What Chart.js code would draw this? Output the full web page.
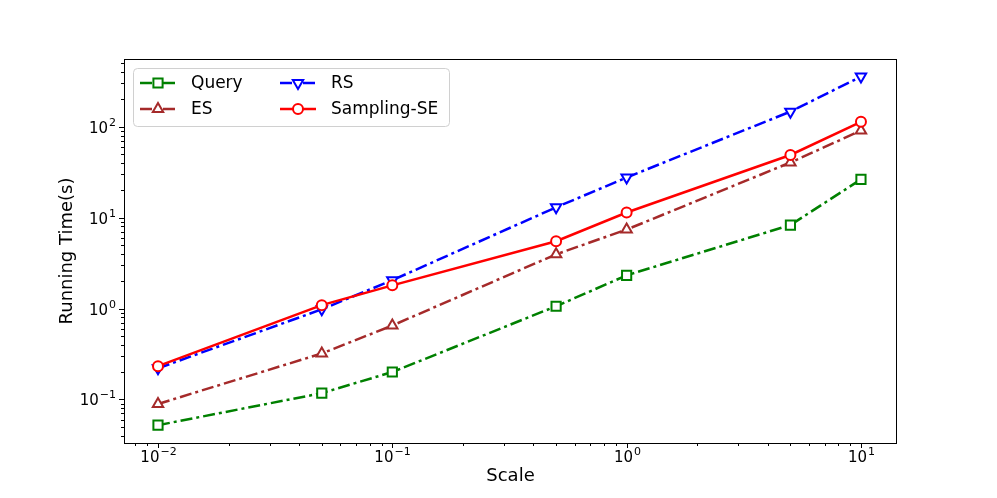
<!DOCTYPE html>
<html>
<head>
<meta charset="utf-8">
<script src="https://cdn.jsdelivr.net/npm/chart.js@4.4.1/dist/chart.umd.min.js"></script>
<style>
  html, body { margin: 0; padding: 0; background: #fff; }
  #chart { display: block; }
</style>
</head>
<body>
<canvas id="chart" width="997" height="498"></canvas>
<script>
// data (log-log)
const scales = [0.01, 0.05, 0.1, 0.5, 1, 5, 10];
const queryTimes = [0.052, 0.117, 0.20, 1.06, 2.32, 8.3, 26.4];
const esTimes = [0.089, 0.32, 0.65, 3.95, 7.4, 40.5, 91];
const rsTimes = [0.22, 0.98, 2.05, 13.0, 27.7, 147, 357];
const samplingTimes = [0.232, 1.09, 1.80, 5.5, 11.4, 49, 113.5];

const xTickExps = [-3, -2, -1, 0, 1];
const yTickExps = [-2, -1, 0, 1, 2];

const FONT = "'DejaVu Sans', sans-serif";
const dashDot = [12, 4, 3, 4];

function decadeTicks(exps, min, max) {
    const out = [];
    exps.forEach(function(e) {
        for (let m = 1; m <= 9; m++) {
            const v = m * Math.pow(10, e);
            if (v >= min && v <= max) out.push({ value: v });
        }
    });
    return out;
}

function isDecade(v) {
    const l = Math.log10(v);
    return Math.abs(l - Math.round(l)) < 1e-9;
}

function toPoints(ys) {
    return scales.map((x, i) => ({ x: x, y: ys[i] }));
}

// "10" with a raised exponent, like matplotlib mathtext
function drawPow(ctx, v, x, baseline, align) {
    const e = Math.round(Math.log10(v));
    const expText = e < 0 ? '\u2212' + (-e) : String(e);
    ctx.font = '15px ' + FONT;
    const w1 = ctx.measureText('10').width;
    ctx.font = '11px ' + FONT;
    const w2 = ctx.measureText(expText).width;
    const total = w1 + w2 + 1;
    let left = align === 'right' ? x - total : x - total / 2;
    ctx.textAlign = 'left';
    ctx.textBaseline = 'alphabetic';
    ctx.fillStyle = '#000';
    ctx.font = '15px ' + FONT;
    ctx.fillText('10', left, baseline);
    ctx.font = '11px ' + FONT;
    ctx.fillText(expText, left + w1 + 1, baseline - 7);
}

// frame, tick marks, tick labels and matplotlib-like legend
const framePlugin = {
    id: 'frame',
    afterDraw(chart) {
        const ctx = chart.ctx;
        const a = chart.chartArea;
        ctx.save();
        ctx.strokeStyle = '#000';
        ctx.lineWidth = 1;
        ctx.strokeRect(a.left + 0.5, a.top + 0.5, a.right - a.left - 1, a.bottom - a.top);

        const xs = chart.scales.x;
        xs.ticks.forEach(t => {
            const px = Math.round(xs.getPixelForValue(t.value)) + 0.5;
            const major = isDecade(t.value);
            ctx.beginPath();
            ctx.moveTo(px, a.bottom);
            ctx.lineTo(px, a.bottom + (major ? 5 : 3));
            ctx.stroke();
            if (major) drawPow(ctx, t.value, px, a.bottom + 19, 'center');
        });
        const ys = chart.scales.y;
        ys.ticks.forEach(t => {
            const py = Math.round(ys.getPixelForValue(t.value)) + 0.5;
            const major = isDecade(t.value);
            ctx.beginPath();
            ctx.moveTo(a.left, py);
            ctx.lineTo(a.left - (major ? 5 : 3), py);
            ctx.stroke();
            if (major) drawPow(ctx, t.value, a.left - 8, py + 5, 'right');
        });

        // legend box
        const bx = 133, by = 68, bw = 316, bh = 58;
        ctx.beginPath();
        ctx.roundRect(bx + 0.5, by + 0.5, bw, bh, 4);
        ctx.fillStyle = 'rgba(255,255,255,0.8)';
        ctx.fill();
        ctx.strokeStyle = '#d0d0d0';
        ctx.stroke();

        const slots = [
            { x: 140, y: 83 }, { x: 140, y: 109 },
            { x: 280, y: 83 }, { x: 280, y: 109 }
        ];
        chart.data.datasets.forEach((ds, i) => {
            const s = slots[i];
            ctx.save();
            ctx.strokeStyle = ds.borderColor;
            ctx.lineWidth = ds.borderWidth;
            ctx.setLineDash(ds.borderDash || []);
            ctx.beginPath();
            ctx.moveTo(s.x, s.y);
            ctx.lineTo(s.x + 36, s.y);
            ctx.stroke();
            ctx.restore();
            ctx.save();
            ctx.fillStyle = '#fff';
            ctx.strokeStyle = ds.borderColor;
            ctx.lineWidth = ds.pointBorderWidth;
            Chart.helpers.drawPoint(ctx, {
                pointStyle: ds.pointStyle,
                rotation: ds.pointRotation || 0,
                radius: ds.pointRadius,
                borderWidth: ds.pointBorderWidth
            }, s.x + 18, s.y);
            ctx.restore();
            ctx.fillStyle = '#000';
            ctx.font = '17px ' + FONT;
            ctx.textBaseline = 'middle';
            ctx.textAlign = 'left';
            ctx.fillText(ds.label, s.x + 51, s.y + 1);
        });
        ctx.restore();
    }
};

function series(label, ys, color, style, radius, dash, order, rot) {
    return {
        label: label,
        data: toPoints(ys),
        borderColor: color,
        backgroundColor: '#fff',
        borderWidth: 2.5,
        borderDash: dash,
        pointStyle: style,
        pointRotation: rot || 0,
        pointRadius: radius,
        pointBorderWidth: 2,
        pointBackgroundColor: '#fff',
        pointBorderColor: color,
        tension: 0,
        order: order
    };
}

new Chart(document.getElementById('chart'), {
    type: 'line',
    data: {
        datasets: [
            series('Query', queryTimes, '#008000', 'rect', 6.5, dashDot, 3),
            series('ES', esTimes, '#a52a2a', 'triangle', 6, dashDot, 2),
            series('RS', rsTimes, '#0000ff', 'triangle', 6, dashDot, 1, 180),
            series('Sampling-SE', samplingTimes, '#ff0000', 'circle', 5, [], 0)
        ]
    },
    options: {
        responsive: false,
        devicePixelRatio: 1,
        animation: false,
        layout: { padding: { left: 53, right: 100, top: 59, bottom: 7 } },
        plugins: {
            legend: { display: false },
            tooltip: { enabled: false }
        },
        scales: {
            x: {
                type: 'logarithmic',
                min: 0.00716,
                max: 14.25,
                afterBuildTicks(s) { s.ticks = decadeTicks(xTickExps, s.min, s.max); },
                afterFit(s) { s.height = 48; },
                grid: { drawOnChartArea: false, tickLength: 5, tickColor: 'rgba(0,0,0,0)' },
                border: { display: false },
                ticks: {
                    autoSkip: false,
                    maxRotation: 0,
                    font: { family: FONT, size: 15 },
                    callback: () => ''
                },
                title: {
                    display: true,
                    text: 'Scale',
                    color: '#000',
                    font: { family: FONT, size: 18 }
                }
            },
            y: {
                type: 'logarithmic',
                min: 0.0331,
                max: 558,
                afterBuildTicks(s) { s.ticks = decadeTicks(yTickExps, s.min, s.max); },
                afterFit(s) { s.width = 71; },
                grid: { drawOnChartArea: false, tickLength: 5, tickColor: 'rgba(0,0,0,0)' },
                border: { display: false },
                ticks: {
                    autoSkip: false,
                    font: { family: FONT, size: 15 },
                    callback: () => ''
                },
                title: {
                    display: true,
                    text: 'Running Time(s)',
                    color: '#000',
                    font: { family: FONT, size: 18 }
                }
            }
        }
    },
    plugins: [framePlugin]
});
</script>
</body>
</html>
